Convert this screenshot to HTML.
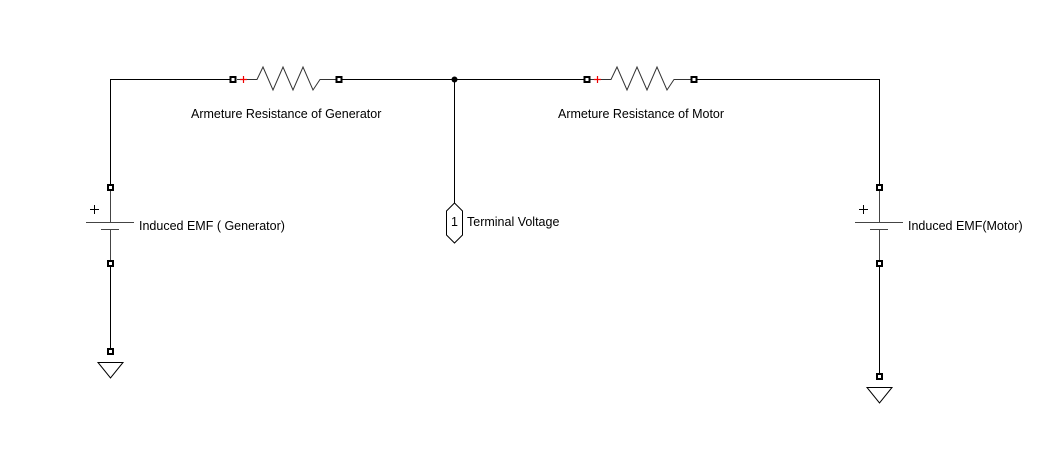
<!DOCTYPE html>
<html><head><meta charset="utf-8"><style>
html,body{margin:0;padding:0;background:#fff;}
svg text{font-family:"Liberation Sans",Arial,sans-serif;font-size:12.5px;fill:#000;}
</style></head><body>
<svg width="1062" height="459" viewBox="0 0 1062 459" xmlns="http://www.w3.org/2000/svg">
<g stroke="#000" stroke-width="1" fill="none">
  <path d="M110.5 187 V79.5 H233" />
  <path d="M338 79.5 H586" />
  <path d="M693 79.5 H879.5 V187" />
  <path d="M454.5 79.5 V203" />
  <path d="M110.5 263 V351" />
  <path d="M879.5 263 V376" />
</g>
<circle cx="454.5" cy="79.5" r="3" fill="#000"/>

<g>
  <path d="M237 79.5 H257 L263 67 L273 90 L283 67 L293 90 L303 67 L313 90 L320 79.5 H338" stroke="#333" fill="none"/>
  <path d="M240 79.5 H247 M243.5 76 V83" stroke="#e00" stroke-width="1.2"/>
  <rect x="230.5" y="77" width="5" height="5" fill="#fff" stroke="#000" stroke-width="2"/>
  <rect x="336.5" y="77" width="5" height="5" fill="#fff" stroke="#000" stroke-width="2"/>
</g>
<text x="191" y="118">Armeture Resistance of Generator</text>

<g>
  <path d="M590 79.5 H611 L617 67 L627 90 L637 67 L647 90 L657 67 L667 90 L674 79.5 H693" stroke="#333" fill="none"/>
  <path d="M594 79.5 H601 M597.5 76 V83" stroke="#e00" stroke-width="1.2"/>
  <rect x="584.5" y="77" width="5" height="5" fill="#fff" stroke="#000" stroke-width="2"/>
  <rect x="691.5" y="77" width="5" height="5" fill="#fff" stroke="#000" stroke-width="2"/>
</g>
<text x="558" y="118">Armeture Resistance of Motor</text>

<g>
  <path d="M110.5 190 V222 M86 222.5 H134 M101 229.5 H119 M110.5 229 V260" stroke="#444" fill="none"/>
  <path d="M90 209.5 H99 M94.5 205 V214" stroke="#000"/>
  <rect x="108" y="185" width="5" height="5" fill="#fff" stroke="#000" stroke-width="2"/>
  <rect x="108" y="261" width="5" height="5" fill="#fff" stroke="#000" stroke-width="2"/>
</g>
<text x="139" y="230">Induced EMF ( Generator)</text>

<g>
  <path d="M879.5 190 V222 M855 222.5 H903 M870 229.5 H888 M879.5 229 V260" stroke="#444" fill="none"/>
  <path d="M859 209.5 H868 M863.5 205 V214" stroke="#000"/>
  <rect x="877" y="185" width="5" height="5" fill="#fff" stroke="#000" stroke-width="2"/>
  <rect x="877" y="261" width="5" height="5" fill="#fff" stroke="#000" stroke-width="2"/>
</g>
<text x="908" y="230">Induced EMF(Motor)</text>

<g>
  <rect x="108" y="349" width="5" height="5" fill="#fff" stroke="#000" stroke-width="2"/>
  <path d="M98 362.5 H123 L110.5 378 Z" fill="#fff" stroke="#000"/>
</g>
<g>
  <rect x="877" y="374" width="5" height="5" fill="#fff" stroke="#000" stroke-width="2"/>
  <path d="M867 387.5 H892 L879.5 403 Z" fill="#fff" stroke="#000"/>
</g>

<g>
  <path d="M454.5 203 L462.5 211 V235 L454.5 243 L446.5 235 V211 Z" fill="#fff" stroke="#000"/>
  <text x="454.5" y="226" text-anchor="middle">1</text>
</g>
<text x="467" y="226">Terminal Voltage</text>
</svg>
</body></html>
